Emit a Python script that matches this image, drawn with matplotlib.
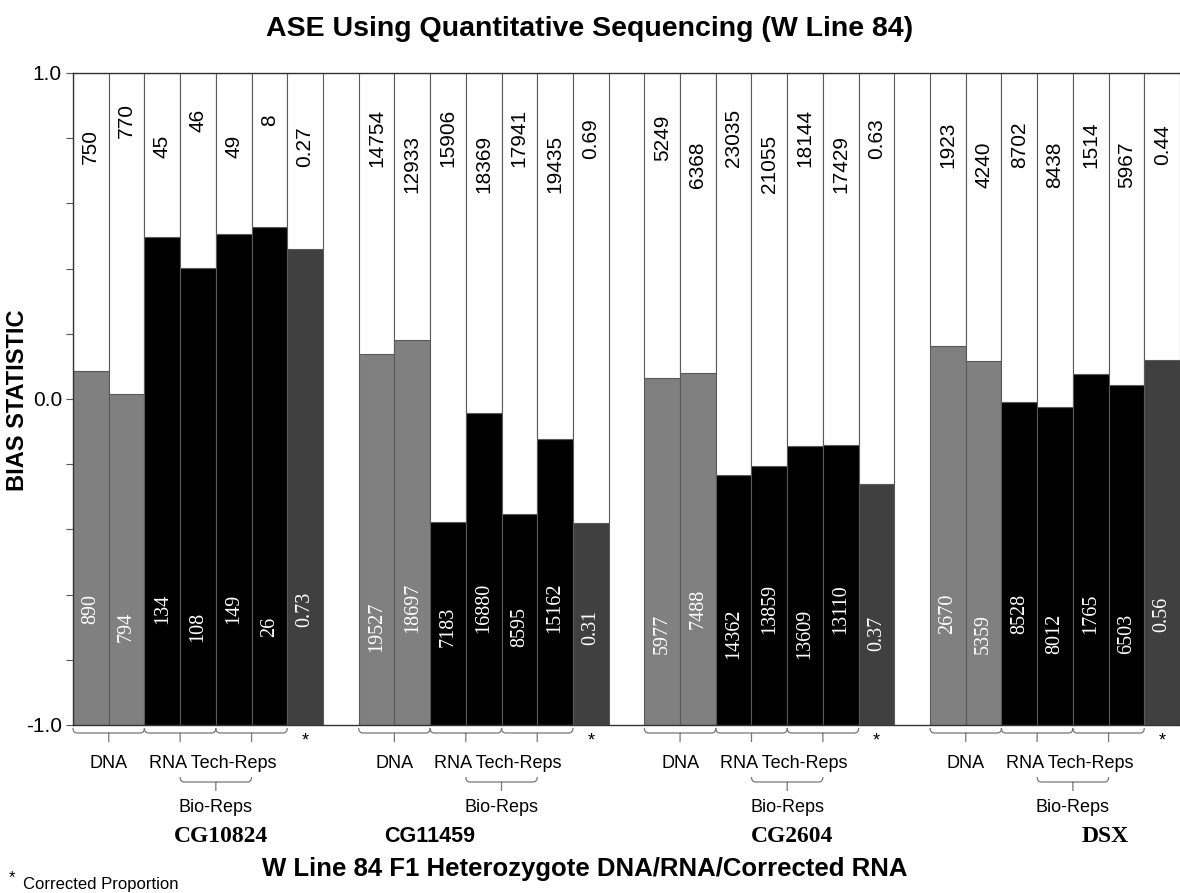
import numpy as np
import matplotlib
matplotlib.use("Agg")
import matplotlib.pyplot as plt
from matplotlib.path import Path
from matplotlib.patches import PathPatch
from matplotlib.ticker import MultipleLocator, FixedLocator
import matplotlib.transforms as mtransforms

# data
genes = ["CG10824", "CG11459", "CG2604", "DSX"]
kinds = ["DNA", "DNA", "RNA", "RNA", "RNA", "RNA", "COR"]

top_labels = [
    ["750", "770", "45", "46", "49", "8", "0.27"],
    ["14754", "12933", "15906", "18369", "17941", "19435", "0.69"],
    ["5249", "6368", "23035", "21055", "18144", "17429", "0.63"],
    ["1923", "4240", "8702", "8438", "1514", "5967", "0.44"],
]
bottom_labels = [
    ["890", "794", "134", "108", "149", "26", "0.73"],
    ["19527", "18697", "7183", "16880", "8595", "15162", "0.31"],
    ["5977", "7488", "14362", "13859", "13609", "13110", "0.37"],
    ["2670", "5359", "8528", "8012", "1765", "6503", "0.56"],
]
bias = [
    [0.085, 0.015, 0.497, 0.403, 0.505, 0.529, 0.46],
    [0.139, 0.182, -0.378, -0.042, -0.352, -0.124, -0.38],
    [0.065, 0.081, -0.232, -0.206, -0.143, -0.141, -0.26],
    [0.163, 0.117, -0.010, -0.026, 0.077, 0.043, 0.12],
]

# style / layout
colors = {"DNA": "#808080", "RNA": "#000000", "COR": "#404040"}
edge = "#5a5a5a"
sans = "Liberation Sans"
serif = "Liberation Serif"
gene_fonts = [serif, sans, serif, serif]
gene_offset = [4.15, 2.0, 4.15, 4.9]
top_y = [(0.775, 0.855), (0.80, 0.72), (0.80, 0.72), (0.78, 0.72)]
bot_y = [(-0.645, -0.70), (-0.70, -0.64), (-0.72, -0.645), (-0.66, -0.72)]

W, H = 1180, 893
fig = plt.figure(figsize=(W / 100, H / 100), dpi=100)
ax = fig.add_axes([73 / W, (H - 725) / H, (W - 73) / W, 652 / H])

for g in range(4):
    for i in range(7):
        x = g * 8 + i + 0.5
        v = bias[g][i]
        ax.bar(x, v + 1, bottom=-1, width=1, color=colors[kinds[i]],
               edgecolor=edge, linewidth=0.8)
        ax.bar(x, 1 - v, bottom=v, width=1, color="white",
               edgecolor=edge, linewidth=0.8)
        ty = top_y[g][i % 2]
        by = bot_y[g][i % 2]
        ax.text(x, ty, top_labels[g][i], rotation=90, ha="center", va="center",
                fontsize=15, family=sans, color="black")
        ax.text(x, by, bottom_labels[g][i], rotation=90, ha="center", va="center",
                fontsize=14.5, family=serif, color="white")

ax.set_xlim(0, 31)
ax.set_ylim(-1, 1)
ax.set_xticks([])
ax.yaxis.set_major_locator(FixedLocator([-1, 0, 1]))
ax.yaxis.set_minor_locator(MultipleLocator(0.2))
ax.set_yticklabels(["-1.0", "0.0", "1.0"], family=sans, fontsize=15)
ax.tick_params(axis="y", which="both", direction="out", length=5, width=0.8,
               color="#555555", pad=3)
ax.spines["right"].set_visible(False)
for s in ["left", "top", "bottom"]:
    ax.spines[s].set_color("#333333")
    ax.spines[s].set_linewidth(1.0)

trans = mtransforms.blended_transform_factory(ax.transData, fig.transFigure)


def fy(py):
    return 1 - py / H


def brace(x0, x1, ptop):
    yt, ym, yb = fy(ptop), fy(ptop + 5), fy(ptop + 14)
    xm = (x0 + x1) / 2
    r = 0.12
    verts = [(x0, yt), (x0, ym), (x0 + r, ym), (xm, ym), (xm, yb),
             (xm, ym), (x1 - r, ym), (x1, ym), (x1, yt)]
    codes = [Path.MOVETO, Path.CURVE3, Path.CURVE3, Path.LINETO, Path.LINETO,
             Path.MOVETO, Path.LINETO, Path.CURVE3, Path.CURVE3]
    p = PathPatch(Path(verts, codes), transform=trans, fill=False,
                  edgecolor="#777777", linewidth=0.9, clip_on=False)
    fig.add_artist(p)


for g in range(4):
    s = g * 8
    brace(s + 0.0, s + 2.0, 728)
    brace(s + 2.0, s + 4.0, 728)
    brace(s + 4.0, s + 6.0, 728)
    brace(s + 3.0, s + 5.0, 777)
    ax.text(s + 6.5, fy(741), "*", transform=trans, ha="center", va="center",
            fontsize=13, family=sans)
    ax.text(s + 1.0, fy(763), "DNA", transform=trans, ha="center", va="center",
            fontsize=13, family=sans)
    ax.text(s + 3.9, fy(763), "RNA Tech-Reps", transform=trans, ha="center",
            va="center", fontsize=13, family=sans)
    ax.text(s + 4.0, fy(807), "Bio-Reps", transform=trans, ha="center",
            va="center", fontsize=13, family=sans)
    ax.text(s + gene_offset[g], fy(837), genes[g], transform=trans, ha="center",
            va="center", fontsize=17 if gene_fonts[g] == serif else 15.5,
            family=gene_fonts[g], fontweight="bold")

fig.text(0.5, fy(29), "ASE Using Quantitative Sequencing (W Line 84)",
         ha="center", va="center", fontsize=20.5, family=sans, fontweight="bold")
fig.text(585 / W, fy(869), "W Line 84 F1 Heterozygote DNA/RNA/Corrected RNA",
         ha="center", va="center", fontsize=18.5, family=sans, fontweight="bold")
fig.text(18 / W, fy(400), "BIAS STATISTIC", rotation=90, ha="center",
         va="center", fontsize=17, family=sans, fontweight="bold")
fig.text(9 / W, fy(878), "*", ha="left", va="center", fontsize=12, family=sans)
fig.text(23 / W, fy(884), "Corrected Proportion", ha="left", va="center",
         fontsize=12, family=sans)

fig.savefig("out.png", dpi=100)
